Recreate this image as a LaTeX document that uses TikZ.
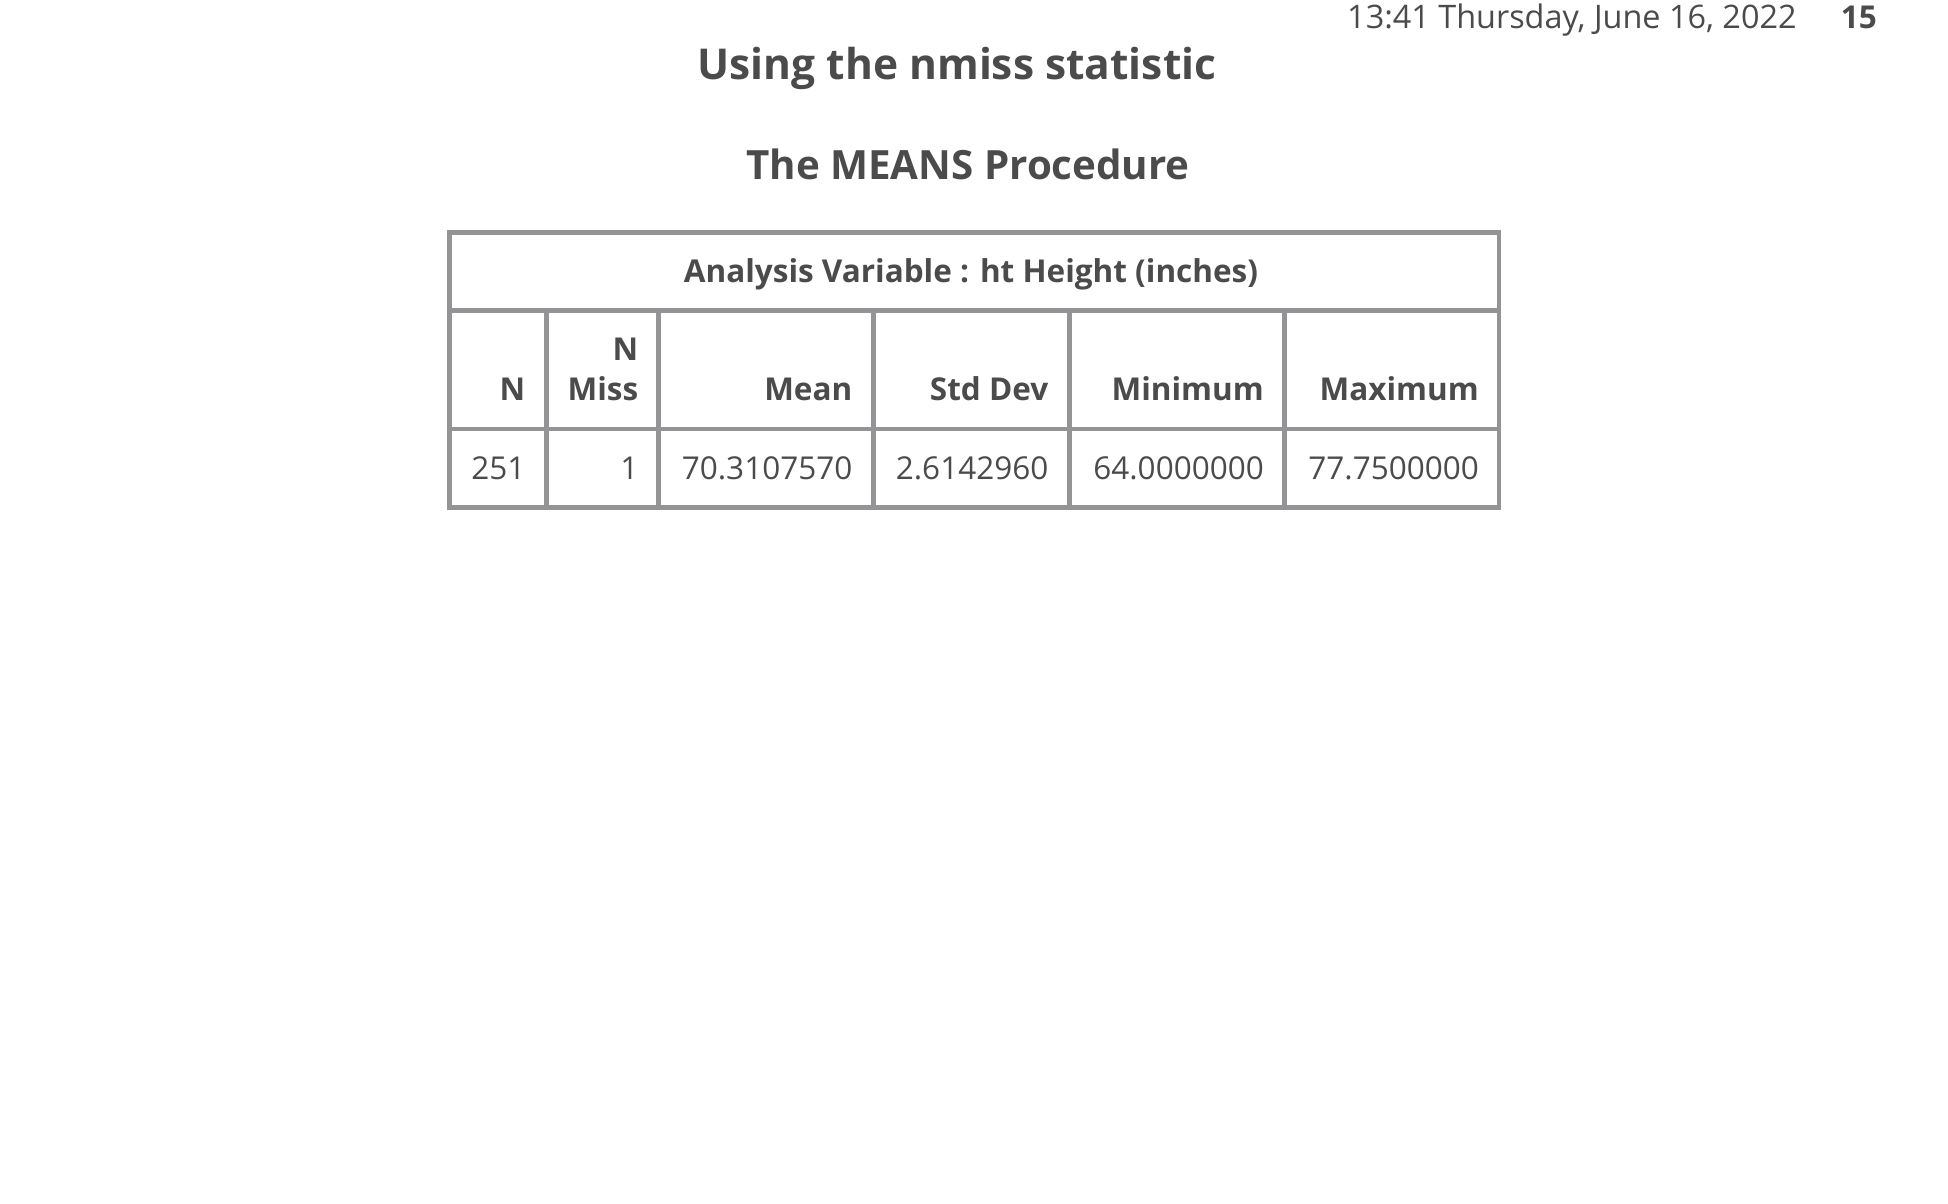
\documentclass[tikz,border=0pt]{standalone}
\usepackage{fontspec}
\setmainfont{Open Sans}
\definecolor{rulegray}{RGB}{148,148,150}
\definecolor{inkgray}{RGB}{75,75,75}
\tikzset{
  rule/.style={draw=rulegray,line width=4.7pt},
  headtext/.style={font=\fontsize{31.5}{40}\selectfont\bfseries,text=inkgray,inner sep=0pt,align=right},
  celltext/.style={font=\fontsize{31.5}{40}\selectfont,text=inkgray,inner sep=0pt},
  titletext/.style={font=\fontsize{#1}{#1}\selectfont\bfseries,text=inkgray,inner sep=0pt,anchor=base},
}
\begin{document}
\begin{tikzpicture}[x=1pt,y=-1pt]
                \useasboundingbox (0,0) rectangle (1948,1204);
                \node[celltext,anchor=base west,font=\fontsize{32.4}{40}\selectfont] (date) at (1347,29) {13:41 Thursday, June 16, 2022};
                \node[headtext,anchor=base east] (page) at (1877,29) {15};
                \node[titletext=42.5] (title) at (957,79.5) {Using the nmiss statistic};
                \node[titletext=40.3] (proc) at (968,179) {The MEANS Procedure};
                \draw[rule] (449.7,232.3) rectangle (1499,507.7);
                \draw[rule] (449.7,310.3) -- (1499,310.3);
                \draw[rule] (449.7,429) -- (1499,429);
                \foreach \x in {546.3,658.3,873.7,1069.7,1284.3}{
                    \draw[rule] (\x,310.3) -- (\x,507.7);
                }
                \node[headtext,anchor=base] (var) at (971,282.5) {Analysis Variable : ht Height (inches)};
                \foreach \x/\h/\v [count=\i] in {525.5/N/251,638.5/N\\Miss/1,852.5/Mean/70.3107570,1048.5/Std Dev/2.6142960,1264/Minimum/64.0000000,1479/Maximum/77.7500000}{
                    \node[headtext,anchor=base east] (h\i) at (\x,400.7) {\h};
                    \node[celltext,anchor=base east] (v\i) at (\x,479.3) {\v};
                }
\end{tikzpicture}
\end{document}
